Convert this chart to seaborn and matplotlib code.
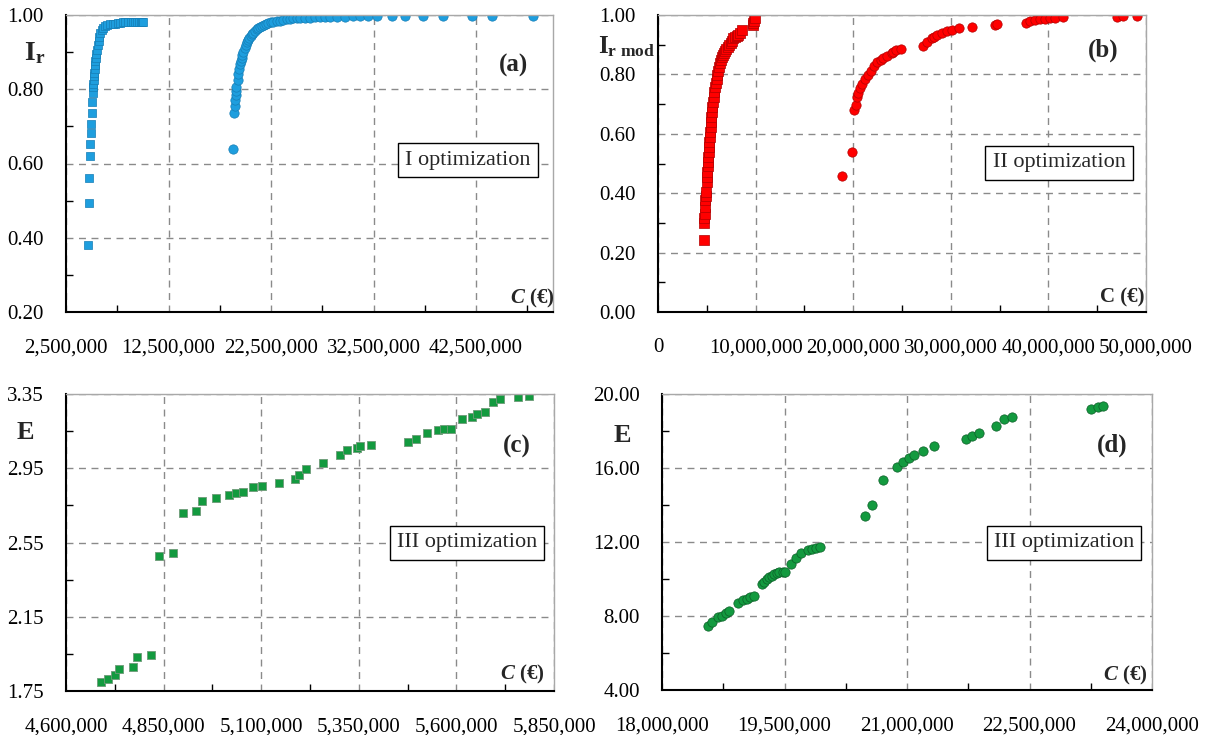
import numpy as np
import pandas as pd
import matplotlib
matplotlib.use('Agg')
import matplotlib.pyplot as plt
import seaborn as sns
from matplotlib.ticker import FixedLocator, FuncFormatter

# ---- data (cost in millions of euro) ----
# (a) I optimization
a_sq_cost = [4.68, 4.74, 4.77, 4.84, 4.85, 4.91, 4.94, 5.01, 5.07, 5.10, 5.14, 5.16, 5.19, 5.21, 5.24,
             5.28, 5.32, 5.36, 5.41, 5.46, 5.52, 5.59, 5.67, 5.75, 5.85, 5.98, 6.12, 6.30, 6.50, 6.79,
             7.05, 7.28, 7.55, 7.80, 8.05, 8.30, 8.55, 8.80, 9.05, 9.25, 9.45, 9.65, 9.80, 9.95, 10.04]
a_sq_ir = [0.380, 0.494, 0.560, 0.620, 0.652, 0.681, 0.706, 0.737, 0.766, 0.791, 0.805, 0.815, 0.825,
           0.835, 0.845, 0.855, 0.865, 0.875, 0.885, 0.895, 0.905, 0.918, 0.930, 0.942, 0.952, 0.960,
           0.965, 0.970, 0.973, 0.975, 0.976, 0.977, 0.978, 0.979, 0.980, 0.980, 0.981, 0.981, 0.981,
           0.982, 0.982, 0.982, 0.982, 0.982, 0.982]
a_ci_cost = [18.82, 18.89, 18.96, 19.02, 19.06, 19.08, 19.10, 19.25, 19.31, 19.39, 19.47, 19.55, 19.64,
             19.71, 19.79, 19.93, 20.06, 20.17, 20.28, 20.39, 20.51, 20.63, 20.76, 20.92, 21.09, 21.25,
             21.41, 21.60, 21.80, 22.01, 22.22, 22.46, 22.72, 23.04, 23.37, 23.69, 24.02, 24.34, 24.66,
             24.99, 25.33, 25.81, 26.30, 26.79, 27.28, 27.77, 28.25, 28.90, 29.72, 30.52, 31.17, 31.99,
             32.81, 34.28, 35.57, 37.36, 39.31, 42.08, 44.03, 48.09]
a_ci_ir = [0.639, 0.735, 0.755, 0.771, 0.784, 0.796, 0.805, 0.825, 0.841, 0.855, 0.867, 0.875, 0.883,
           0.892, 0.901, 0.910, 0.919, 0.926, 0.933, 0.939, 0.944, 0.948, 0.952, 0.957, 0.961, 0.965,
           0.969, 0.971, 0.973, 0.976, 0.978, 0.980, 0.982, 0.984, 0.985, 0.987, 0.988, 0.989, 0.991,
           0.991, 0.992, 0.993, 0.993, 0.994, 0.994, 0.994, 0.995, 0.995, 0.995, 0.996, 0.996, 0.996,
           0.996, 0.996, 0.996, 0.996, 0.996, 0.996, 0.996, 0.996]

# (b) II optimization
b_sq_cost = [4.71, 4.74, 4.75, 4.78, 4.82, 4.85, 4.88, 4.92, 4.98, 5.01, 5.05, 5.10, 5.12, 5.15, 5.19,
             5.22, 5.26, 5.30, 5.33, 5.38, 5.43, 5.48, 5.53, 5.58, 5.63, 5.70, 5.77, 5.84, 5.92, 6.00,
             6.08, 6.16, 6.25, 6.33, 6.42, 6.52, 6.62, 6.74, 6.86, 7.00, 7.15, 7.30, 7.45, 7.58, 7.72,
             7.90, 8.05, 8.20, 8.40, 8.58, 9.70, 9.76, 9.84, 9.94]
b_sq_ir = [0.242, 0.301, 0.315, 0.330, 0.352, 0.377, 0.390, 0.405, 0.439, 0.455, 0.472, 0.490, 0.506,
           0.523, 0.540, 0.557, 0.573, 0.590, 0.607, 0.624, 0.641, 0.657, 0.674, 0.691, 0.708, 0.725,
           0.742, 0.756, 0.770, 0.784, 0.798, 0.812, 0.826, 0.838, 0.848, 0.857, 0.865, 0.873, 0.880,
           0.887, 0.893, 0.900, 0.907, 0.914, 0.921, 0.926, 0.930, 0.934, 0.938, 0.949, 0.966, 0.972,
           0.981, 0.989]
b_ci_cost = [18.82, 19.85, 20.08, 20.25, 20.36, 20.52, 20.70, 20.93, 21.21, 21.48, 21.79, 22.13, 22.47,
             22.80, 23.08, 23.43, 23.94, 24.11, 24.39, 24.87, 27.12, 27.53, 28.04, 28.30, 28.55, 29.07,
             29.58, 30.09, 30.87, 32.14, 34.53, 34.77, 37.70, 38.11, 38.63, 39.14, 39.65, 40.16, 40.68,
             41.53, 47.06, 47.68, 49.04]
b_ci_ir = [0.459, 0.538, 0.680, 0.697, 0.723, 0.738, 0.753, 0.768, 0.783, 0.798, 0.813, 0.828, 0.842,
           0.848, 0.854, 0.863, 0.873, 0.876, 0.882, 0.885, 0.896, 0.910, 0.921, 0.927, 0.933, 0.940,
           0.947, 0.951, 0.957, 0.961, 0.966, 0.969, 0.974, 0.980, 0.983, 0.985, 0.986, 0.989, 0.991,
           0.992, 0.994, 0.995, 0.997]

# (c) III optimization, squares
c_cost = [4.689, 4.707, 4.726, 4.736, 4.771, 4.781, 4.817, 4.837, 4.873, 4.900, 4.933, 4.948, 4.984,
          5.017, 5.035, 5.053, 5.078, 5.102, 5.146, 5.187, 5.198, 5.215, 5.259, 5.302, 5.321, 5.345,
          5.353, 5.381, 5.475, 5.496, 5.524, 5.552, 5.569, 5.586, 5.614, 5.639, 5.653, 5.674, 5.694,
          5.711, 5.757, 5.786]
c_e = [1.800, 1.813, 1.836, 1.867, 1.878, 1.932, 1.944, 2.477, 2.495, 2.707, 2.718, 2.775, 2.790,
       2.806, 2.815, 2.822, 2.849, 2.856, 2.869, 2.894, 2.914, 2.946, 2.976, 3.024, 3.048, 3.057,
       3.068, 3.077, 3.093, 3.109, 3.138, 3.156, 3.161, 3.161, 3.214, 3.228, 3.244, 3.255, 3.309,
       3.324, 3.333, 3.340]

# (d) III optimization, circles
d_cost = [18.567, 18.608, 18.690, 18.731, 18.784, 18.824, 18.934, 18.988, 19.037, 19.078, 19.127,
          19.221, 19.249, 19.282, 19.314, 19.343, 19.371, 19.404, 19.437, 19.478, 19.510, 19.580,
          19.637, 19.702, 19.792, 19.841, 19.886, 19.935, 20.486, 20.567, 20.710, 20.873, 20.955,
          21.028, 21.089, 21.200, 21.334, 21.718, 21.792, 21.885, 22.085, 22.188, 22.282, 23.249,
          23.343, 23.396]
d_e = [7.48, 7.66, 7.93, 8.02, 8.18, 8.25, 8.69, 8.86, 8.90, 9.01, 9.10, 9.73, 9.85, 9.98, 10.09,
       10.18, 10.25, 10.31, 10.36, 10.38, 10.40, 10.81, 11.15, 11.39, 11.57, 11.60, 11.66, 11.71,
       13.41, 14.00, 15.35, 16.04, 16.34, 16.54, 16.70, 16.92, 17.19, 17.55, 17.73, 17.87, 18.27,
       18.63, 18.77, 19.19, 19.32, 19.37]

# axis ticks
a_xticks = [2500000, 12500000, 22500000, 32500000, 42500000]
a_yticks = [0.20, 0.40, 0.60, 0.80, 1.00]
b_xticks = [0, 10000000, 20000000, 30000000, 40000000, 50000000]
b_yticks = [0.00, 0.20, 0.40, 0.60, 0.80, 1.00]
c_xticks = [4600000, 4850000, 5100000, 5350000, 5600000, 5850000]
c_yticks = [1.75, 2.15, 2.55, 2.95, 3.35]
d_xticks = [18000000, 19500000, 21000000, 22500000, 24000000]
d_yticks = [4.00, 8.00, 12.00, 16.00, 20.00]

sns.set_style('white')
plt.rcParams['font.family'] = ['Liberation Serif', 'DejaVu Serif']
plt.rcParams['mathtext.fontset'] = 'custom'
plt.rcParams['mathtext.rm'] = 'Liberation Serif'
plt.rcParams['mathtext.bf'] = 'Liberation Serif:bold'
plt.rcParams['mathtext.it'] = 'Liberation Serif:italic:bold'

W, H = 1205, 735
fig = plt.figure(figsize=(W / 100, H / 100), dpi=100)


def px_axes(l, t, r, b):
    return fig.add_axes([l / W, 1 - b / H, (r - l) / W, (b - t) / H])


def style(ax, xticks, yticks, xlim, ylim):
    ax.set_xlim(*xlim)
    ax.set_ylim(*ylim)
    ax.xaxis.set_major_locator(FixedLocator(xticks))
    ax.yaxis.set_major_locator(FixedLocator(yticks))
    xs = np.array(xticks, dtype=float)
    ys = np.array(yticks, dtype=float)
    ax.xaxis.set_minor_locator(FixedLocator(list((xs[:-1] + xs[1:]) / 2) + [xs[-1] + (xs[1] - xs[0]) / 2]))
    ax.yaxis.set_minor_locator(FixedLocator((ys[:-1] + ys[1:]) / 2))
    ax.xaxis.set_major_formatter(FuncFormatter(lambda v, p: f'{v:,.0f}'))
    ax.yaxis.set_major_formatter(FuncFormatter(lambda v, p: f'{v:.2f}'))
    ax.grid(True, which='major', ls=(0, (5, 4)), color='#8a8a8a', lw=1.0)
    ax.set_axisbelow(True)
    for s in ('top', 'right'):
        ax.spines[s].set_color('#a8a8a8')
        ax.spines[s].set_linewidth(1.0)
    for s in ('left', 'bottom'):
        ax.spines[s].set_color('black')
        ax.spines[s].set_linewidth(1.5)
    ax.tick_params(which='major', direction='out', length=5, width=1.2, color='black',
                   labelsize=15, colors='black')
    ax.tick_params(axis='x', which='major', pad=14)
    ax.tick_params(axis='y', which='major', pad=11)
    ax.tick_params(which='minor', direction='in', length=5, width=1.0, color='black')
    ax.tick_params(which='minor', bottom=True, left=True)
    ax.set_xlabel('')
    ax.set_ylabel('')


def label_box(x, y, s):
    fig.text(x / W, 1 - y / H, s, fontsize=16, ha='center', va='center',
             bbox=dict(boxstyle='square,pad=0.32', fc='white', ec='black', lw=1.0))


blue, blue_e = '#1E9EDE', '#157DB5'
red, red_e = '#FF0000', '#B00000'
green, green_e = '#139A3F', '#0B5E27'

# (a)
ax_a = px_axes(66, 15, 553, 312)
sns.scatterplot(x=np.array(a_sq_cost) * 1e6, y=a_sq_ir, marker='s', s=38, color=blue,
                edgecolor=blue_e, linewidth=0.5, ax=ax_a)
sns.scatterplot(x=np.array(a_ci_cost) * 1e6, y=a_ci_ir, marker='o', s=45, color=blue,
                edgecolor=blue_e, linewidth=0.5, ax=ax_a)
style(ax_a, a_xticks, a_yticks, (2500000, 50000000), (0.20, 1.00))

# (b)
ax_b = px_axes(658, 15, 1146, 312)
sns.scatterplot(x=np.array(b_sq_cost) * 1e6, y=b_sq_ir, marker='s', s=42, color=red,
                edgecolor=red_e, linewidth=0.5, ax=ax_b)
sns.scatterplot(x=np.array(b_ci_cost) * 1e6, y=b_ci_ir, marker='o', s=45, color=red,
                edgecolor=red_e, linewidth=0.5, ax=ax_b)
style(ax_b, b_xticks, b_yticks, (0, 50000000), (0.00, 1.00))

# (c)
ax_c = px_axes(66, 394, 554, 691)
sns.scatterplot(x=np.array(c_cost) * 1e6, y=c_e, marker='s', s=38, color=green,
                edgecolor='#6e9a78', linewidth=0.6, ax=ax_c)
style(ax_c, c_xticks, c_yticks, (4600000, 5850000), (1.75, 3.35))

# (d)
ax_d = px_axes(662, 394, 1152, 690)
sns.scatterplot(x=np.array(d_cost) * 1e6, y=d_e, marker='o', s=45, color=green,
                edgecolor=green_e, linewidth=0.5, ax=ax_d)
style(ax_d, d_xticks, d_yticks, (18000000, 24000000), (4.00, 20.00))

# annotations
label_box(468, 160, 'I optimization')
label_box(1059, 163, 'II optimization')
label_box(467, 543, 'III optimization')
label_box(1064, 543, 'III optimization')

for x, y, s in [(513, 65, '(a)'), (1103, 50, '(b)'), (517, 446, '(c)'), (1112, 445, '(d)')]:
    fig.text(x / W, 1 - y / H, s, fontsize=18, fontweight='bold', ha='center', va='center')

for x, y, s in [(532, 298, r'$C$ (€)'), (1122, 297, 'C (€)'), (522, 674, r'$C$ (€)'),
                (1125, 675, r'$C$ (€)')]:
    fig.text(x / W, 1 - y / H, s, fontsize=15, fontweight='bold', ha='center', va='center')

fig.text(35 / W, 1 - 53 / H, r'$\mathbf{I}_{\mathbf{r}}$', fontsize=20, ha='center', va='center')
fig.text(627 / W, 1 - 47 / H, r'$\mathbf{I}_{\mathbf{r\ mod}}$', fontsize=18, ha='center', va='center')
fig.text(25 / W, 1 - 432 / H, 'E', fontsize=19, fontweight='bold', ha='center', va='center')
fig.text(622 / W, 1 - 435 / H, 'E', fontsize=19, fontweight='bold', ha='center', va='center')

fig.savefig('out.png', dpi=100, facecolor='white')
